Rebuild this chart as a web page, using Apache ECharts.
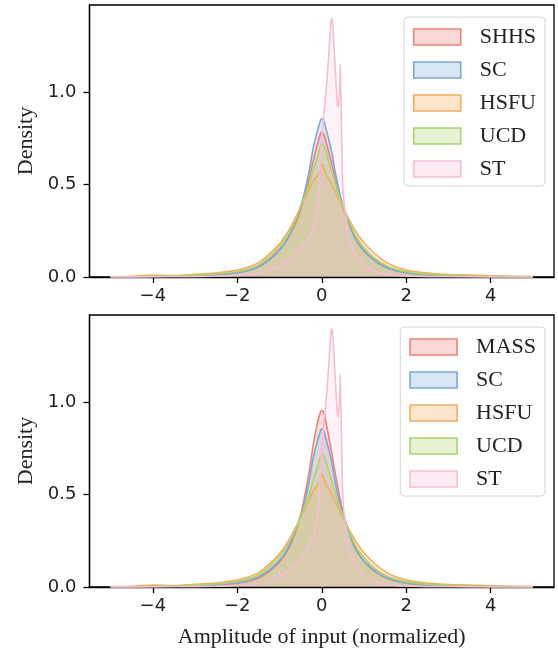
<!DOCTYPE html>
<html>
<head>
<meta charset="utf-8">
<script src="https://cdn.jsdelivr.net/npm/echarts@6/dist/echarts.min.js"></script>
<style>
html,body{margin:0;padding:0;background:#fff;}
#c{width:558px;height:655px;}
</style>
</head>
<body>
<div id="c"></div>
<script>
// Shared x grid for the smooth KDE curves
const X_COMMON = [-5, -4.5, -4, -3.5, -3, -2.5, -2, -1.75, -1.5, -1.25, -1, -0.8, -0.6, -0.45, -0.3, -0.2, -0.1, -0.05, 0, 0.05, 0.1, 0.16, 0.24, 0.3, 0.38, 0.44, 0.5, 0.56, 0.65, 0.8, 1, 1.25, 1.5, 1.75, 2, 2.5, 3, 3.5, 4, 4.5, 5];

const SHHS = [0.001, 0.001, 0.003, 0.005, 0.007, 0.013, 0.026, 0.037, 0.057, 0.094, 0.148, 0.21, 0.30, 0.40, 0.53, 0.63, 0.72, 0.76, 0.785, 0.77, 0.73, 0.68, 0.61, 0.55, 0.47, 0.42, 0.375, 0.335, 0.285, 0.21, 0.145, 0.092, 0.056, 0.036, 0.025, 0.012, 0.006, 0.004, 0.002, 0.001, 0.001];
const MASS = [0.001, 0.001, 0.002, 0.004, 0.006, 0.011, 0.021, 0.031, 0.049, 0.083, 0.135, 0.2, 0.31, 0.44, 0.62, 0.77, 0.89, 0.93, 0.955, 0.94, 0.89, 0.82, 0.72, 0.64, 0.54, 0.47, 0.41, 0.36, 0.3, 0.21, 0.14, 0.086, 0.051, 0.032, 0.021, 0.01, 0.005, 0.003, 0.002, 0.001, 0.001];
const SC   = [0.001, 0.001, 0.002, 0.004, 0.006, 0.012, 0.023, 0.034, 0.054, 0.091, 0.145, 0.21, 0.32, 0.42, 0.57, 0.70, 0.79, 0.83, 0.855, 0.84, 0.80, 0.75, 0.67, 0.59, 0.50, 0.44, 0.39, 0.35, 0.29, 0.205, 0.14, 0.089, 0.054, 0.034, 0.022, 0.011, 0.006, 0.004, 0.002, 0.001, 0.001];
const HSFU = [0.002, 0.004, 0.011, 0.008, 0.014, 0.022, 0.038, 0.053, 0.078, 0.122, 0.18, 0.245, 0.33, 0.40, 0.47, 0.52, 0.55, 0.57, 0.61, 0.59, 0.555, 0.535, 0.50, 0.47, 0.43, 0.405, 0.38, 0.35, 0.31, 0.25, 0.185, 0.127, 0.083, 0.055, 0.038, 0.021, 0.013, 0.011, 0.007, 0.004, 0.002];
const UCD  = [0.001, 0.002, 0.004, 0.006, 0.009, 0.016, 0.03, 0.042, 0.065, 0.107, 0.165, 0.23, 0.32, 0.41, 0.50, 0.58, 0.65, 0.69, 0.72, 0.71, 0.68, 0.63, 0.57, 0.52, 0.46, 0.42, 0.385, 0.35, 0.30, 0.225, 0.16, 0.102, 0.064, 0.042, 0.029, 0.015, 0.008, 0.005, 0.003, 0.002, 0.001];

// ST has a sharp double spike, read at its own x positions
const ST_X = [-5, -4, -3, -2.5, -2, -1.75, -1.5, -1.25, -1, -0.8, -0.6, -0.45, -0.3, -0.2, -0.1, -0.05, 0, 0.05, 0.1, 0.16, 0.21, 0.24, 0.27, 0.32, 0.36, 0.38, 0.4, 0.42, 0.44, 0.46, 0.48, 0.5, 0.54, 0.6, 0.65, 0.8, 1, 1.25, 1.5, 2, 2.5, 3, 4, 5];
const ST   = [0, 0.001, 0.002, 0.004, 0.008, 0.012, 0.02, 0.035, 0.06, 0.09, 0.13, 0.17, 0.22, 0.27, 0.38, 0.55, 0.75, 0.88, 1.0, 1.18, 1.36, 1.40, 1.33, 1.12, 0.96, 0.92, 0.94, 1.0, 1.15, 0.9, 0.65, 0.48, 0.38, 0.27, 0.2, 0.12, 0.065, 0.03, 0.015, 0.005, 0.002, 0.001, 0, 0];

const X_TICKS = [-4, -2, 0, 2, 4];
const Y_TICKS = [0, 0.5, 1.0];

const TOP_NAMES = ['SHHS', 'SC', 'HSFU', 'UCD', 'ST'];
const BOTTOM_NAMES = ['MASS', 'SC', 'HSFU', 'UCD', 'ST'];

const COLORS = {
  SHHS: ['#ef8277', 'rgba(239,130,119,A)', 0.35],
  MASS: ['#ef8277', 'rgba(239,130,119,A)', 0.35],
  SC:   ['#7ea8d4', 'rgba(126,168,212,A)', 0.33],
  HSFU: ['#f4ac5e', 'rgba(244,172,94,A)', 0.36],
  UCD:  ['#abd56c', 'rgba(171,213,108,A)', 0.35],
  ST:   ['#f6bdd7', 'rgba(246,189,215,A)', 0.26]
};

const SERIES_DATA = {
  SHHS: [X_COMMON, SHHS], MASS: [X_COMMON, MASS], SC: [X_COMMON, SC],
  HSFU: [X_COMMON, HSFU], UCD: [X_COMMON, UCD], ST: [ST_X, ST]
};

function pairs(xs, ys) { return xs.map((x, i) => [x, ys[i]]); }
const fmtX = v => (v < 0 ? '\u2212' + Math.abs(v) : String(v));
const fill = (n, a) => COLORS[n][1].replace('A', a);

const chart = echarts.init(document.getElementById('c'), null, {renderer: 'canvas'});

const tickFont = {fontFamily: 'DejaVu Sans', fontSize: 18, color: '#222'};
const serif = 'Liberation Serif';

function xAxis(gi, withName) {
  const a = {
    gridIndex: gi, type: 'value', min: -5.5, max: 5.5,
    axisLine: {show: true, onZero: false, lineStyle: {color: '#000', width: 1.3}},
    axisTick: {show: true, length: 6, lineStyle: {color: '#000', width: 1.3}, customValues: X_TICKS},
    axisLabel: Object.assign({margin: 10, formatter: fmtX, customValues: X_TICKS}, tickFont),
    splitLine: {show: false}
  };
  if (withName) {
    a.name = 'Amplitude of input (normalized)';
    a.nameLocation = 'middle';
    a.nameGap = 39;
    a.nameTextStyle = {fontFamily: serif, fontSize: 22, color: '#222'};
  }
  return a;
}
function yAxis(gi) {
  return {
    gridIndex: gi, type: 'value', min: 0, max: 1.47,
    name: 'Density', nameLocation: 'middle', nameGap: 50,
    nameTextStyle: {fontFamily: serif, fontSize: 22, color: '#222'},
    axisLine: {show: true, onZero: false, lineStyle: {color: '#000', width: 1.3}},
    axisTick: {show: true, length: 6, lineStyle: {color: '#000', width: 1.3}, customValues: Y_TICKS},
    axisLabel: Object.assign({margin: 13, formatter: v => v.toFixed(1), customValues: Y_TICKS}, tickFont),
    splitLine: {show: false}
  };
}

function mkSeries(names, gi) {
  return names.map(n => ({
    name: n, type: 'line', xAxisIndex: gi, yAxisIndex: gi,
    data: pairs(SERIES_DATA[n][0], SERIES_DATA[n][1]),
    showSymbol: false, symbol: 'none',
    smooth: n === 'ST' ? 0.15 : 0.4,
    lineStyle: {color: COLORS[n][0], width: 1.6},
    itemStyle: {color: COLORS[n][0]},
    areaStyle: {color: fill(n, COLORS[n][2])},
    emphasis: {disabled: true},
    silent: true
  }));
}

function mkLegend(names, top) {
  return {
    orient: 'vertical', right: 13, top: top,
    icon: 'rect', itemWidth: 47, itemHeight: 16, itemGap: 11,
    padding: [9, 9, 6, 9],
    backgroundColor: 'rgba(255,255,255,0.85)',
    borderColor: '#d4d4d4', borderWidth: 1, borderRadius: 4,
    selectedMode: false,
    textStyle: {fontFamily: serif, fontSize: 22, color: '#222', padding: [0, 0, 0, 14]},
    data: names.map(n => ({
      name: n,
      itemStyle: {color: fill(n, 0.3), borderColor: COLORS[n][0], borderWidth: 1.6}
    }))
  };
}

chart.setOption({
  animation: false,
  backgroundColor: '#fff',
  grid: [
    {left: 89.5, right: 4, top: 5, height: 272, show: true, borderColor: '#000', borderWidth: 1.3, backgroundColor: 'transparent'},
    {left: 89.5, right: 4, top: 315, height: 272, show: true, borderColor: '#000', borderWidth: 1.3, backgroundColor: 'transparent'}
  ],
  xAxis: [xAxis(0, false), xAxis(1, true)],
  yAxis: [yAxis(0), yAxis(1)],
  legend: [mkLegend(TOP_NAMES, 17), mkLegend(BOTTOM_NAMES, 327)],
  series: mkSeries(TOP_NAMES, 0).concat(mkSeries(BOTTOM_NAMES, 1))
});
</script>
</body>
</html>
